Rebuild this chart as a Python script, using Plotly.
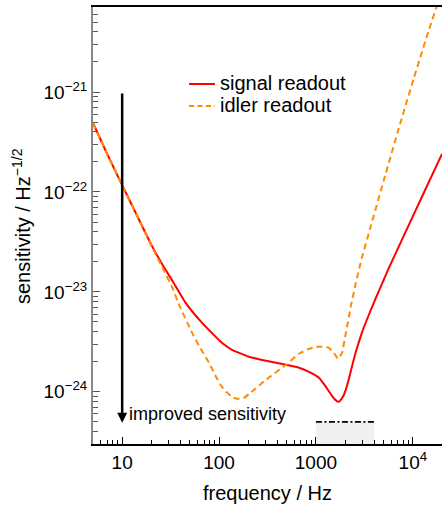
import math
import plotly.graph_objects as go

# ---------------- data ----------------
signal_freq = [5.0, 6.7, 10, 14.3, 20.4, 25.8, 33, 44.6, 66.8, 107, 136, 204, 305, 491, 668,
               847, 1074, 1268, 1462, 1607, 1726, 1897, 2036, 2188, 2350, 2583, 2979, 3516,
               4154, 5662, 7709, 12390, 20000]
signal_sens = [4.9e-22, 2.63e-22, 1.17e-22, 5.75e-23, 2.85e-23, 1.9e-23, 1.29e-23, 7.9e-24,
               4.9e-24, 3.09e-24, 2.63e-24, 2.24e-24, 2.04e-24, 1.86e-24, 1.74e-24,
               1.58e-24, 1.38e-24, 1.12e-24, 9.1e-25, 8.2e-25, 7.94e-25, 8.9e-25, 1.05e-24,
               1.35e-24, 1.78e-24, 2.51e-24, 3.89e-24, 5.9e-24, 8.7e-24, 1.74e-23, 3.31e-23,
               8.9e-23, 2.4e-22]

idler_freq = [5.0, 6.7, 10, 14.3, 20.4, 25.8, 33, 38.7, 52.7, 62.2, 78.9, 93.1, 107, 121, 136,
              153, 181, 204, 305, 491, 668, 847, 1000, 1153, 1361, 1534, 1687, 1855, 2036,
              2296, 2583, 2979, 3690, 5026, 7178, 10240, 14620, 18530, 20000]
idler_sens = [4.9e-22, 2.63e-22, 1.17e-22, 5.75e-23, 2.79e-23, 1.78e-23, 1.1e-23, 7.4e-24,
              3.89e-24, 2.88e-24, 1.95e-24, 1.41e-24, 1.12e-24, 9.8e-25, 8.9e-25, 8.5e-25,
              8.7e-25, 9.5e-25, 1.32e-24, 1.86e-24, 2.4e-24, 2.69e-24, 2.82e-24, 2.82e-24,
              2.75e-24, 2.45e-24, 2.14e-24, 2.45e-24, 3.89e-24, 7.24e-24, 1.23e-23, 2.19e-23,
              4.57e-23, 1.32e-22, 4.37e-22, 1.38e-21, 4.17e-21, 8.3e-21, 1.05e-20]

series_names = ["signal readout", "idler readout"]

# band of interest (1-4 kHz) and its level
band_freq = [1000, 4000]
band_level = 5e-25
band_floor = 1e-26

# arrow: "improved sensitivity"
arrow_freq = 10
arrow_from = 1e-21
arrow_to = 4.9e-25
arrow_label = "improved sensitivity"

x_range = [5, 2e4]
y_range = [3.0e-25, 7.1e-21]
x_ticks = [10, 100, 1000, 10000]
x_ticktext = ["10", "100", "1000", "10<sup>4</sup>"]
y_ticks = [1e-24, 1e-23, 1e-22, 1e-21]
y_ticktext = ["10<sup>\u221224</sup>", "10<sup>\u221223</sup>", "10<sup>\u221222</sup>", "10<sup>\u221221</sup>"]
x_title = "frequency / Hz"
y_title = "sensitivity / Hz<sup>\u22121/2</sup>"

# ---------------- figure ----------------
FONT = "Liberation Sans, Arial, Helvetica, sans-serif"
RED = "#ff0000"
ORANGE = "#ff8c00"

W, H = 442, 505
L, R, T, B = 93, 0, 7, 61
pw, ph = W - L - R, H - T - B
def px(xp):
    return (xp - L) / pw
def py(yp):
    return (H - B - yp) / ph

fig = go.Figure()
fig.add_trace(go.Scatter(x=signal_freq, y=signal_sens, mode="lines", name=series_names[0],
                         line=dict(color=RED, width=2, shape="spline", smoothing=0.4)))
fig.add_trace(go.Scatter(x=idler_freq, y=idler_sens, mode="lines", name=series_names[1],
                         line=dict(color=ORANGE, width=2, dash="6px,4px", shape="spline", smoothing=0.4)))

# gray band and dash-dot level line
fig.add_shape(type="rect", xref="x", yref="y", x0=band_freq[0], x1=band_freq[1],
              y0=band_floor, y1=band_level, fillcolor="#f0f0f0", line=dict(width=0), layer="below")
fig.add_shape(type="line", xref="x", yref="y", x0=band_freq[0], x1=band_freq[1],
              y0=band_level, y1=band_level, line=dict(color="black", width=1.6, dash="6px,2.5px,2px,2.5px"))

# arrow
fig.add_annotation(x=math.log10(arrow_freq), y=math.log10(arrow_to),
                   ax=math.log10(arrow_freq), ay=math.log10(arrow_from),
                   xref="x", yref="y", axref="x", ayref="y", text="",
                   showarrow=True, arrowhead=2, arrowsize=0.8, arrowwidth=2.5, arrowcolor="black")
fig.add_annotation(x=px(127), y=py(414), xref="paper", yref="paper", text=arrow_label, showarrow=False,
                   xanchor="left", yanchor="middle", font=dict(size=18, family=FONT, color="black"))

# manual legend (paper coordinates)
legend_rows = [(series_names[0], RED, "solid", 84), (series_names[1], ORANGE, "5px,3.5px", 106)]
for name, col, dash, yp in legend_rows:
    fig.add_shape(type="line", xref="paper", yref="paper", x0=px(189), x1=px(215), y0=py(yp), y1=py(yp),
                  line=dict(color=col, width=2, dash=dash))
    fig.add_annotation(x=px(218), y=py(yp - 1), xref="paper", yref="paper", text=name, showarrow=False,
                       xanchor="left", yanchor="middle", font=dict(size=20, family=FONT, color="black"))

# axis titles
fig.add_annotation(x=px(267), y=py(493), xref="paper", yref="paper", text=x_title, showarrow=False,
                   xanchor="center", yanchor="middle", font=dict(size=20, family=FONT, color="black"))
fig.add_annotation(x=px(21), y=py(226), xref="paper", yref="paper", text=y_title, showarrow=False,
                   textangle=-90, xanchor="center", yanchor="middle", font=dict(size=20, family=FONT, color="black"))

fig.update_layout(
    width=W, height=H, margin=dict(l=L, r=R, t=T, b=B, pad=0, autoexpand=False),
    plot_bgcolor="white", paper_bgcolor="white", showlegend=False,
    font=dict(family=FONT, color="black"),
)

minor_x = [m * 10 ** e for e in range(0, 5) for m in range(2, 10) if x_range[0] <= m * 10 ** e <= x_range[1]]
minor_y = [m * 10.0 ** e for e in range(-26, -20) for m in range(2, 10) if y_range[0] <= m * 10.0 ** e <= y_range[1]]

fig.update_xaxes(
    type="log", range=[math.log10(x_range[0]), math.log10(x_range[1])], automargin=False,
    tickmode="array", tickvals=x_ticks, ticktext=x_ticktext,
    ticks="inside", ticklen=7, tickwidth=1, tickcolor="black",
    showline=True, linecolor="black", linewidth=1.5, mirror=True,
    showgrid=False, zeroline=False,
    tickfont=dict(size=19, family=FONT, color="black"),
    minor=dict(tickmode="array", tickvals=minor_x, ticks="inside", ticklen=4, tickcolor="black", showgrid=False),
)
fig.update_yaxes(
    type="log", range=[math.log10(y_range[0]), math.log10(y_range[1])], automargin=False,
    tickmode="array", tickvals=y_ticks, ticktext=y_ticktext,
    ticks="inside", ticklen=7, tickwidth=1, tickcolor="#555555",
    showline=True, linecolor="#888888", linewidth=2, mirror=False,
    showgrid=False, zeroline=False,
    tickfont=dict(size=19, family=FONT, color="black"),
    minor=dict(tickmode="array", tickvals=minor_y, ticks="inside", ticklen=5, tickcolor="#555555", showgrid=False),
)

fig.write_html("out.html", config={"displayModeBar": False},
               post_script="document.body.style.margin='0';document.body.style.overflow='hidden';")
